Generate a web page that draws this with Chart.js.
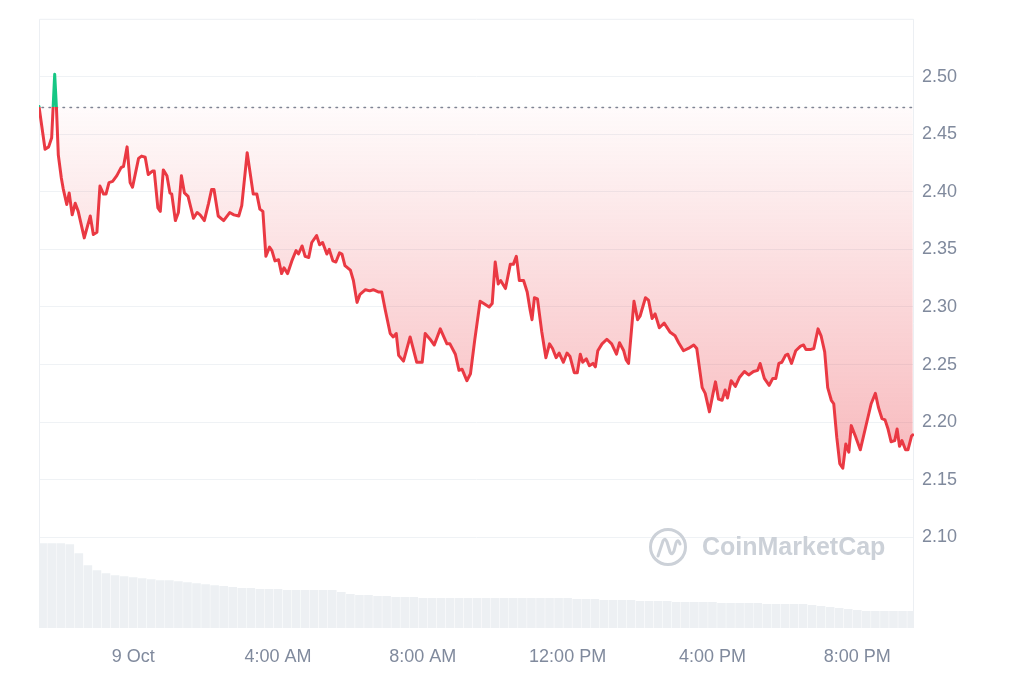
<!DOCTYPE html>
<html><head><meta charset="utf-8">
<script src="https://cdn.jsdelivr.net/npm/chart.js@4.4.1/dist/chart.umd.min.js"></script>
<style>html,body{margin:0;padding:0;background:#fff;}#wrap{width:1024px;height:683px;position:relative;}</style>
</head><body><div id="wrap"><canvas id="c" width="1024" height="683"></canvas></div>
<script>
// minutes relative to 9 Oct 00:00
const priceTimes = [
-156,-146,-140,-135,-130,-127,-124,-119,-116,-110,
-106,-101,-96,-91,-81,-71,-66,-60,-55,-49,
-45,-40,-34,-27,-20,-16,-10,-5,-1,9,
14,20,25,32,35,41,45,50,56,61,
64,70,75,80,85,91,100,106,111,118,
125,130,134,141,150,160,167,175,180,189,
199,205,210,215,220,226,230,235,241,246,
250,256,263,270,274,280,285,291,296,304,
309,314,321,325,331,336,342,346,351,360,
365,371,376,385,392,398,407,412,418,426,
431,436,440,448,459,470,479,484,492,499,
509,520,525,534,540,545,553,559,566,575,
581,590,595,600,605,609,617,625,630,635,
640,647,653,658,661,665,670,677,684,690,
695,701,706,713,719,724,731,736,741,745,
751,756,762,766,770,777,785,793,801,806,
813,817,821,830,836,840,849,854,860,865,
872,880,890,898,904,912,920,929,934,943,
948,955,961,965,970,976,981,985,991,998,
1005,1013,1020,1028,1035,1039,1046,1054,1060,1065,
1070,1075,1081,1085,1091,1098,1106,1111,1115,1122,
1128,1135,1140,1146,1151,1157,1161,1166,1171,1176,
1181,1186,1190,1196,1205,1214,1223,1230,1235,1241,
1246,1251,1256,1262,1266,1270,1274,1280,1284,1290,
1292];
const prices = [
2.474,2.437,2.439,2.447,2.502,2.472,2.432,2.412,2.403,2.389,
2.399,2.380,2.390,2.383,2.360,2.379,2.363,2.365,2.405,2.398,
2.398,2.408,2.409,2.414,2.421,2.422,2.439,2.408,2.404,2.429,
2.431,2.430,2.415,2.418,2.418,2.386,2.383,2.419,2.414,2.399,
2.398,2.375,2.382,2.414,2.399,2.396,2.377,2.382,2.380,2.375,
2.390,2.402,2.402,2.379,2.375,2.382,2.380,2.379,2.388,2.434,
2.398,2.398,2.385,2.383,2.344,2.352,2.349,2.340,2.341,2.329,
2.334,2.329,2.340,2.349,2.346,2.353,2.344,2.343,2.356,2.362,
2.354,2.356,2.346,2.350,2.340,2.339,2.347,2.346,2.336,2.332,
2.323,2.304,2.311,2.315,2.314,2.315,2.313,2.313,2.297,2.277,
2.274,2.277,2.258,2.253,2.274,2.252,2.252,2.277,2.272,2.267,
2.281,2.268,2.268,2.259,2.245,2.246,2.236,2.242,2.271,2.305,
2.303,2.300,2.303,2.339,2.320,2.323,2.316,2.337,2.337,2.344,
2.323,2.323,2.313,2.297,2.289,2.308,2.307,2.279,2.256,2.268,
2.264,2.256,2.260,2.252,2.260,2.257,2.243,2.243,2.259,2.252,
2.255,2.249,2.251,2.248,2.262,2.268,2.272,2.268,2.259,2.269,
2.262,2.254,2.251,2.305,2.289,2.292,2.308,2.306,2.290,2.294,
2.282,2.286,2.278,2.275,2.269,2.262,2.264,2.267,2.264,2.230,
2.225,2.209,2.225,2.235,2.220,2.219,2.228,2.221,2.236,2.231,
2.239,2.244,2.241,2.244,2.245,2.251,2.238,2.232,2.238,2.238,
2.251,2.252,2.258,2.259,2.251,2.262,2.266,2.267,2.263,2.263,
2.264,2.281,2.275,2.261,2.230,2.219,2.216,2.187,2.164,2.160,
2.181,2.174,2.197,2.189,2.176,2.196,2.216,2.225,2.213,2.203,
2.202,2.194,2.183,2.184,2.194,2.179,2.184,2.176,2.176,2.188,
2.189];
const volumeTimes = [
-150,-135,-120,-105,-90,-75,-60,-45,-30,-15,
0,15,30,45,60,75,90,105,120,135,
150,165,180,195,210,225,240,255,270,285,
300,315,330,345,360,375,390,405,420,435,
450,465,480,495,510,525,540,555,570,585,
600,615,630,645,660,675,690,705,720,735,
750,765,780,795,810,825,840,855,870,885,
900,915,930,945,960,975,990,1005,1020,1035,
1050,1065,1080,1095,1110,1125,1140,1155,1170,1185,
1200,1215,1230,1245,1260,1275,1290];
const volumes = [
85,85,85,84,75,63,58,55,53,52,
51,50,49,48,48,47,46,45,44,43,
42,41,40,40,39,39,39,38,38,38,
38,38,38,36,34,33,33,32,32,31,
31,31,30,30,30,30,30,30,30,30,
30,30,30,30,30,30,30,30,30,29,
29,29,28,28,28,28,27,27,27,27,
26,26,26,26,26,25,25,25,25,25,
24,24,24,24,24,23,22,21,20,19,
18,17,17,17,17,17,17];
const xTickValues = [0,240,480,720,960,1200];
const xTickLabels = ['9 Oct','4:00 AM','8:00 AM','12:00 PM','4:00 PM','8:00 PM'];
const yTickValues = [2.10,2.15,2.20,2.25,2.30,2.35,2.40,2.45,2.50];
const openPrice = prices[0];

const GREEN = '#16c784', RED = '#ea3943';
const FONT = "'Liberation Sans', Arial, Helvetica, sans-serif";

function baseFrac(chart){
  const a = chart.chartArea, y = chart.scales.y;
  const by = y.getPixelForValue(openPrice);
  return Math.min(1, Math.max(0, (by - a.top) / (a.bottom - a.top)));
}

const decor = {
  id: 'decor',
  beforeDatasetsDraw(chart){
    const {ctx, chartArea: a, scales: {y}} = chart;
    ctx.save();
    // frame
    ctx.strokeStyle = '#eceff3'; ctx.lineWidth = 1;
    ctx.beginPath();
    ctx.moveTo(a.left + 0.5, a.bottom); ctx.lineTo(a.left + 0.5, a.top + 0.5);
    ctx.lineTo(a.right - 0.5, a.top + 0.5); ctx.lineTo(a.right - 0.5, a.bottom);
    ctx.stroke();
    // watermark
    const cx = a.right - 246, cy = a.bottom - 81;
    ctx.strokeStyle = '#ccd1d8'; ctx.lineWidth = 3; ctx.lineCap = 'round'; ctx.lineJoin = 'round';
    ctx.beginPath(); ctx.arc(cx, cy, 17.5, 0, Math.PI * 2); ctx.stroke();
    ctx.beginPath();
    ctx.moveTo(cx - 10, cy + 9);
    ctx.lineTo(cx - 5, cy - 6);
    ctx.quadraticCurveTo(cx - 3, cy - 10, cx - 1, cy - 5);
    ctx.lineTo(cx + 2, cy + 5);
    ctx.quadraticCurveTo(cx + 4, cy + 9, cx + 6, cy + 4);
    ctx.lineTo(cx + 8, cy - 4);
    ctx.quadraticCurveTo(cx + 10, cy - 9, cx + 12, cy - 3);
    ctx.stroke();
    ctx.fillStyle = '#ccd1d8';
    ctx.font = 'bold 25px ' + FONT;
    ctx.textBaseline = 'middle'; ctx.textAlign = 'left';
    ctx.fillText('CoinMarketCap', cx + 34, cy + 1);
    // dotted open-price line
    const by = Math.round(y.getPixelForValue(openPrice)) + 0.5;
    ctx.setLineDash([1.5, 5.5]); ctx.lineCap = 'round';
    ctx.strokeStyle = '#7d8595'; ctx.lineWidth = 1.5;
    ctx.beginPath(); ctx.moveTo(a.left + 3, by); ctx.lineTo(a.right, by); ctx.stroke();
    ctx.restore();
  }
};

new Chart(document.getElementById('c'), {
  type: 'line',
  data: {
    datasets: [
      {
        type: 'line',
        data: priceTimes.map((t, i) => ({x: t, y: prices[i]})),
        xAxisID: 'x', yAxisID: 'y',
        borderWidth: 3,
        borderJoinStyle: 'round', borderCapStyle: 'round',
        pointRadius: 0, tension: 0, order: 0,
        fill: {value: openPrice},
        borderColor(ctx){
          const c = ctx.chart, a = c.chartArea;
          if (!a) return RED;
          const t = baseFrac(c);
          const g = c.ctx.createLinearGradient(0, a.top, 0, a.bottom);
          g.addColorStop(0, GREEN); g.addColorStop(t, GREEN);
          g.addColorStop(t, RED); g.addColorStop(1, RED);
          return g;
        },
        backgroundColor(ctx){
          const c = ctx.chart, a = c.chartArea;
          if (!a) return 'rgba(234,57,67,0.1)';
          const t = baseFrac(c);
          const g = c.ctx.createLinearGradient(0, a.top, 0, a.bottom);
          g.addColorStop(0, 'rgba(22,199,132,0.3)'); g.addColorStop(t, 'rgba(22,199,132,0.02)');
          g.addColorStop(t, 'rgba(234,57,67,0.02)'); g.addColorStop(1, 'rgba(234,57,67,0.5)');
          return g;
        }
      },
      {
        type: 'bar',
        data: volumeTimes.map((t, i) => ({x: t, y: volumes[i]})),
        xAxisID: 'x', yAxisID: 'yVol',
        backgroundColor: '#edf0f3',
        borderWidth: 0,
        categoryPercentage: 1, barPercentage: 0.95,
        order: 1
      }
    ]
  },
  options: {
    responsive: false, animation: false, devicePixelRatio: 1,
    layout: {padding: {left: 39, top: 17, right: 0, bottom: 0}},
    plugins: {legend: {display: false}, tooltip: {enabled: false}},
    scales: {
      x: {
        type: 'linear', min: -156, max: 1294, offset: false,
        grid: {display: false, drawTicks: false}, border: {display: false},
        afterBuildTicks(scale){ scale.ticks = xTickValues.map(v => ({value: v})); },
        afterFit(scale){ scale.height = 55; },
        ticks: {
          autoSkip: false, maxRotation: 0, padding: 18,
          color: '#808a9d', font: {family: FONT, size: 18},
          callback(v, i){ return xTickLabels[i]; }
        }
      },
      y: {
        type: 'linear', position: 'right', min: 2.0213, max: 2.5502,
        grid: {color: '#eff2f5', lineWidth: 1, drawTicks: false}, border: {display: false},
        afterBuildTicks(scale){ scale.ticks = yTickValues.map(v => ({value: v})); },
        afterFit(scale){ scale.width = 110; },
        ticks: {
          padding: 8, color: '#808a9d', font: {family: FONT, size: 18},
          callback(v){ return Number(v).toFixed(2); }
        }
      },
      yVol: {
        type: 'linear', display: false, min: 0, max: 611
      }
    }
  },
  plugins: [decor]
});
</script>
</body></html>
